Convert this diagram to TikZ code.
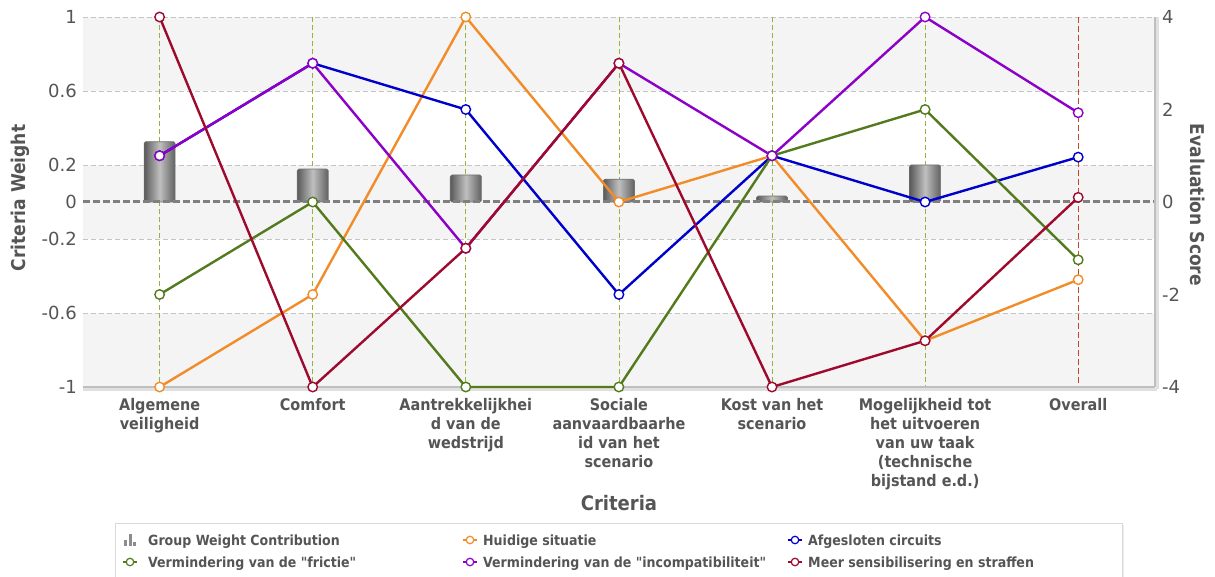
\documentclass[tikz,border=0pt]{standalone}
\usepackage{fontspec}
\setmainfont{DejaVu Sans Condensed}
\newfontfamily\tickf{DejaVu Sans}
\usetikzlibrary{shadows}

\definecolor{txt}{HTML}{555555}
\definecolor{gridc}{RGB}{196,196,196}
\definecolor{bandc}{RGB}{244,244,244}
\definecolor{catc}{RGB}{150,180,60}
\definecolor{ovc}{RGB}{200,70,40}
\definecolor{orc}{RGB}{242,140,40}
\definecolor{blc}{RGB}{0,0,204}
\definecolor{grc}{RGB}{84,122,30}
\definecolor{puc}{RGB}{140,0,200}
\definecolor{rec}{RGB}{158,10,45}

\begin{document}
\begin{tikzpicture}[x=1pt,y=-1pt,
  every node/.style={inner sep=0pt,text=txt},
  gridline/.style={draw=gridc,line width=0.9pt,dash pattern=on 5pt off 3pt},
  catline/.style={draw=catc,line width=0.8pt,dash pattern=on 5pt off 3pt},
  ser/.style={line width=2.4pt,line join=round},
  mk/.style={circle,fill=white,line width=1.4pt,minimum size=9.5pt,inner sep=0pt},
  wbar/.style={draw=black!55,line width=0.7pt,rounded corners=1.5pt,
    left color=black!65,right color=black!62,middle color=black!25},
  ticklab/.style={font=\tickf\fontsize{18}{20}\selectfont},
  catlab/.style={anchor=north,align=center,font=\bfseries\fontsize{16}{19}\selectfont},
  axtitle/.style={font=\bfseries\fontsize{19}{21}\selectfont},
  legtext/.style={anchor=base west,font=\bfseries\fontsize{14}{16}\selectfont},
  legmk/.style={circle,fill=white,line width=1.2pt,minimum size=7.5pt,inner sep=0pt}
]
\useasboundingbox (0,0) rectangle (1215,577);

% alternating background bands
\fill[bandc] (83,17) rectangle (1155,91);
\fill[bandc] (83,165) rectangle (1155,239);
\fill[bandc] (83,313) rectangle (1155,387);

% horizontal grid lines
\foreach \yy in {17,91,165,239,313}
  \draw[gridline] (83,\yy) -- (1155,\yy);

% vertical category guides
\foreach \i in {1,...,6}
  \draw[catline] ({159.6+153.1*(\i-1)},17) -- ({159.6+153.1*(\i-1)},387);
\draw[draw=ovc,line width=1.4pt,dash pattern=on 6pt off 3pt] (1078.2,17) -- (1078.2,387);

% group weight bars
\foreach \w [count=\i] in {0.326,0.178,0.146,0.123,0.032,0.2}
  \path[wbar] ({159.6+153.1*(\i-1)-15.5},202) rectangle ({159.6+153.1*(\i-1)+15.5},{202-185*\w});

% zero line, axis line and right frame
\draw[black!50,line width=3pt,dash pattern=on 7pt off 3pt] (83,202) -- (1155,202);
\draw[black!12,line width=3pt] (83,389) -- (1157,389);
\draw[black!25,line width=1.2pt] (83,387) -- (1155,387);
\draw[black!12,line width=3pt] (1157,17) -- (1157,389);
\draw[black!25,line width=1.2pt] (1155,17) -- (1155,387);

% left axis ticks (criteria weight)
\foreach \yy/\lab in {17/1,91/0.6,165/0.2,202/0,239/-0.2,313/-0.6,387/-1}
  \node[ticklab,anchor=east] at (77,\yy) {\lab};
% right axis ticks (evaluation score)
\foreach \yy/\lab in {17/4,109.5/2,202/0,294.5/-2,387/-4}
  \node[ticklab,anchor=west] at (1162,\yy) {\lab};

% axis titles
\node[axtitle,rotate=90] (ytl) at (20,198) {Criteria Weight};
\node[axtitle,rotate=-90] (ytr) at (1198,205) {Evaluation Score};
\node[font=\bfseries\fontsize{20}{22}\selectfont,anchor=base] (xt) at (619,510) {Criteria};

% category labels
\node[catlab] (c1) at (159.6,398) {Algemene\\veiligheid};
\node[catlab] (c2) at (312.7,398) {Comfort};
\node[catlab] (c3) at (465.8,398) {Aantrekkelijkhei\\d van de\\wedstrijd};
\node[catlab] (c4) at (618.9,398) {Sociale\\aanvaardbaarhe\\id van het\\scenario};
\node[catlab] (c5) at (772.0,398) {Kost van het\\scenario};
\node[catlab] (c6) at (925.1,398) {Mogelijkheid tot\\het uitvoeren\\van uw taak\\(technische\\bijstand e.d.)};
\node[catlab] (c7) at (1078.2,398) {Overall};

% data points (evaluation score, -4..4)
\foreach \v [count=\i] in {-4,-2,4,0,1,-3,-1.68}
  \coordinate (or\i) at ({159.6+153.1*(\i-1)},{202-46.25*\v});
\foreach \v [count=\i] in {1,3,2,-2,1,0,0.97}
  \coordinate (bl\i) at ({159.6+153.1*(\i-1)},{202-46.25*\v});
\foreach \v [count=\i] in {-2,0,-4,-4,1,2,-1.25}
  \coordinate (gr\i) at ({159.6+153.1*(\i-1)},{202-46.25*\v});
\foreach \v [count=\i] in {1,3,-1,3,1,4,1.93}
  \coordinate (pu\i) at ({159.6+153.1*(\i-1)},{202-46.25*\v});
\foreach \v [count=\i] in {4,-4,-1,3,-4,-3,0.1}
  \coordinate (re\i) at ({159.6+153.1*(\i-1)},{202-46.25*\v});

% series lines
\draw[ser,orc] (or1) -- (or2) -- (or3) -- (or4) -- (or5) -- (or6) -- (or7);
\draw[ser,blc] (bl1) -- (bl2) -- (bl3) -- (bl4) -- (bl5) -- (bl6) -- (bl7);
\draw[ser,grc] (gr1) -- (gr2) -- (gr3) -- (gr4) -- (gr5) -- (gr6) -- (gr7);
\draw[ser,puc] (pu1) -- (pu2) -- (pu3) -- (pu4) -- (pu5) -- (pu6) -- (pu7);
\draw[ser,rec] (re1) -- (re2) -- (re3) -- (re4) -- (re5) -- (re6) -- (re7);

% markers
\foreach \i in {1,...,7} \node[mk,draw=orc] (mor\i) at (or\i) {};
\foreach \i in {1,...,7} \node[mk,draw=blc] (mbl\i) at (bl\i) {};
\foreach \i in {1,...,7} \node[mk,draw=grc] (mgr\i) at (gr\i) {};
\foreach \i in {1,...,7} \node[mk,draw=puc] (mpu\i) at (pu\i) {};
\foreach \i in {1,...,7} \node[mk,draw=rec] (mre\i) at (re\i) {};

% legend
\draw[draw=black!15,fill=white,line width=0.8pt,
  drop shadow={shadow xshift=2pt,shadow yshift=-2pt,opacity=0.15}]
  (115,523) rectangle (1122,577);
% bar icon
\fill[black!45] (124,540) rectangle (127,546);
\fill[black!45] (128.5,534) rectangle (131.5,546);
\fill[black!45] (133,542) rectangle (136,546);
\node[legtext] (l1) at (148,545) {Group Weight Contribution};
% series icons
\foreach \xx/\yy/\col/\nm in {470/540/orc/l2, 795/540/blc/l3, 130/562/grc/l4, 470/562/puc/l5, 795/562/rec/l6}{
  \draw[\col,line width=1.2pt] (\xx-7,\yy) -- (\xx+7,\yy);
  \node[legmk,draw=\col] (\nm m) at (\xx,\yy) {};
}
\node[legtext] (l2) at (483,545) {Huidige situatie};
\node[legtext] (l3) at (808,545) {Afgesloten circuits};
\node[legtext] (l4) at (148,567) {Vermindering van de \textquotedbl frictie\textquotedbl};
\node[legtext] (l5) at (483,567) {Vermindering van de \textquotedbl incompatibiliteit\textquotedbl};
\node[legtext] (l6) at (808,567) {Meer sensibilisering en straffen};
\end{tikzpicture}
\end{document}
